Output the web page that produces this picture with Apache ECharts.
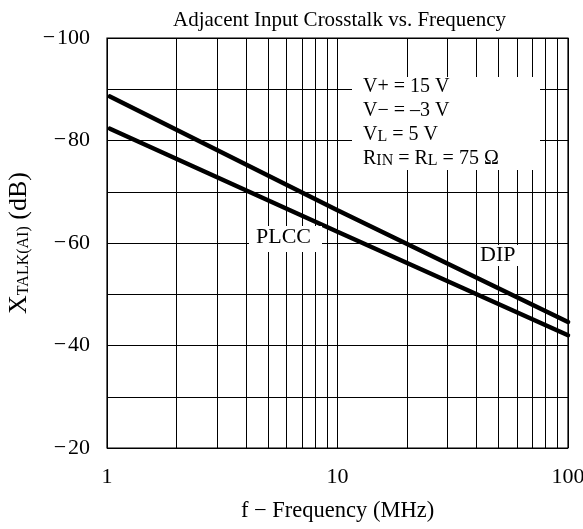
<!DOCTYPE html>
<html>
<head>
<meta charset="utf-8">
<script src="https://cdn.jsdelivr.net/npm/echarts@6/dist/echarts.min.js"></script>
<style>
html,body{margin:0;padding:0;background:#fff;}
#chart{width:583px;height:529px;}
</style>
</head>
<body>
<div id="chart"></div>
<script>
// Data
var freqMHz = [1.03, 10, 100];
var dipValues = [-88.6, -66.4, -44.6];
var plccValues = [-82.3, -62.2, -42.0];
var minorFreqs = [2, 3, 4, 5, 6, 7, 8, 9, 20, 30, 40, 50, 60, 70, 80, 90];
var yLabelValues = [-100, -80, -60, -40, -20];
var xTickLabels = {1: '1', 10: '10', 100: '100'};

var FONT = 'Liberation Serif';
function pairs(xs, ys) { return xs.map(function (x, i) { return [x, ys[i]]; }); }

var chart = echarts.init(document.getElementById('chart'), null, {renderer: 'canvas'});
var option = {
  animation: false,
  backgroundColor: '#fff',
  title: {
    text: 'Adjacent Input Crosstalk vs. Frequency',
    left: 168, top: 5,
    textStyle: {fontFamily: FONT, fontSize: 21, fontWeight: 'normal', color: '#000'}
  },
  grid: {left: 107, right: 15, top: 38, bottom: 81, containLabel: false, outerBoundsMode: 'none',
    show: true, borderColor: '#000', borderWidth: 1.2, backgroundColor: 'transparent'},
  xAxis: {
    type: 'log', logBase: 10, min: 1, max: 100,
    name: 'f \u2212 Frequency (MHz)', nameLocation: 'middle', nameGap: 52,
    nameTextStyle: {fontFamily: FONT, fontSize: 22.5, color: '#000'},
    axisLine: {show: false}, axisTick: {show: false},
    axisLabel: {margin: 18, fontFamily: FONT, fontSize: 22, color: '#000',
      formatter: function (v) { return xTickLabels[Math.round(v)] || ''; }},
    splitLine: {show: true, lineStyle: {color: '#000', width: 1}}
  },
  yAxis: {
    type: 'value', inverse: true, min: -100, max: -20, interval: 10,
    name: '{x|X}{s|TALK(AI)}{n| (dB)}', nameLocation: 'middle', nameGap: 66, nameRotate: 90,
    nameTextStyle: {fontFamily: FONT, color: '#000',
      rich: {
        x: {fontFamily: FONT, fontSize: 26, color: '#000', lineHeight: 28, verticalAlign: 'bottom'},
        s: {fontFamily: FONT, fontSize: 16, color: '#000', lineHeight: 20, verticalAlign: 'bottom'},
        n: {fontFamily: FONT, fontSize: 26, color: '#000', lineHeight: 28, verticalAlign: 'bottom'}
      }},
    axisLine: {show: false}, axisTick: {show: false},
    axisLabel: {margin: 17, fontFamily: FONT, fontSize: 22, color: '#000',
      formatter: function (v) { return yLabelValues.indexOf(v) >= 0 ? '\u2212\u200A' + Math.abs(v) : ''; }},
    splitLine: {show: true, lineStyle: {color: '#000', width: 1}}
  },
  series: [
    {
      name: 'DIP', type: 'line', data: pairs(freqMHz, dipValues), showSymbol: false, smooth: false,
      lineStyle: {color: '#000', width: 4.5, cap: 'round'}, z: 5,
      markLine: {
        silent: true, symbol: 'none', label: {show: false}, animation: false,
        lineStyle: {color: '#000', width: 1, type: 'solid'},
        data: minorFreqs.map(function (f) { return {xAxis: f}; })
      }
    },
    {
      name: 'PLCC', type: 'line', data: pairs(freqMHz, plccValues), showSymbol: false, smooth: false,
      lineStyle: {color: '#000', width: 4.5, cap: 'round'}, z: 5
    }
  ],
  graphic: [
    {type: 'rect', z: 100, shape: {x: 352, y: 77, width: 188, height: 93}, style: {fill: '#fff'}},
    {type: 'text', z: 101, left: 363, top: 77, style: {
      text: '{a|V+ = 15 V}\n{a|V\u2212 = \u20133 V}\n{a|V}{s|L}{a| = 5 V}\n{a|R}{s|IN}{a| = R}{s|L}{a| = 75 \u03A9}',
      rich: {
        a: {fontFamily: FONT, fontSize: 20, lineHeight: 24, verticalAlign: 'bottom', fill: '#000', color: '#000'},
        s: {fontFamily: FONT, fontSize: 16, lineHeight: 18, verticalAlign: 'bottom', fill: '#000', color: '#000'}
      }, fill: '#000'}},
    {type: 'rect', z: 100, shape: {x: 249, y: 226, width: 73, height: 26}, style: {fill: '#fff'}},
    {type: 'text', z: 101, left: 256, top: 226, style: {text: 'PLCC', font: '22px "Liberation Serif"', fill: '#000'}},
    {type: 'rect', z: 100, shape: {x: 478, y: 245, width: 42, height: 21}, style: {fill: '#fff'}},
    {type: 'text', z: 101, left: 480, top: 244, style: {text: 'DIP', font: '22px "Liberation Serif"', fill: '#000'}}
  ]
};
chart.setOption(option);
</script>
</body>
</html>
